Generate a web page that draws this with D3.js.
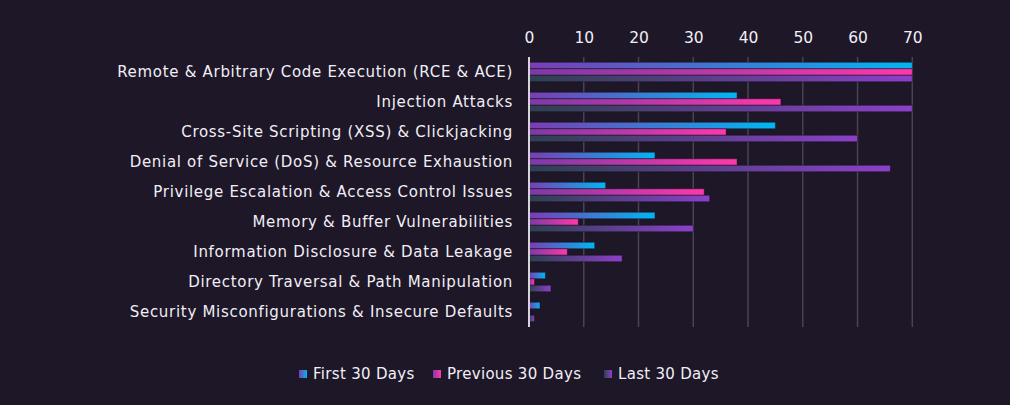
<!DOCTYPE html>
<html>
<head>
<meta charset="utf-8">
<script src="https://cdn.jsdelivr.net/npm/d3@7"></script>
<style>
    html, body { margin: 0; padding: 0; background: #1d1727; }
    svg { display: block; }
    text { font-family: "DejaVu Sans", sans-serif; fill: #f2eef6; }
</style>
</head>
<body>
<svg id="chart" width="1010" height="405"></svg>
<script>
const categories = [
    "Remote & Arbitrary Code Execution (RCE & ACE)",
    "Injection Attacks",
    "Cross-Site Scripting (XSS) & Clickjacking",
    "Denial of Service (DoS) & Resource Exhaustion",
    "Privilege Escalation & Access Control Issues",
    "Memory & Buffer Vulnerabilities",
    "Information Disclosure & Data Leakage",
    "Directory Traversal & Path Manipulation",
    "Security Misconfigurations & Insecure Defaults"
];
const seriesNames = ["First 30 Days", "Previous 30 Days", "Last 30 Days"];
const first30 = [70, 38, 45, 23, 14, 23, 12, 3, 2];
const previous30 = [70, 46, 36, 38, 32, 9, 7, 1, 0];
const last30 = [70, 70, 60, 66, 33, 30, 17, 4, 1];
const xTicks = [0, 10, 20, 30, 40, 50, 60, 70];

const gradients = [
    ["#7a3db2", "#00b6f2"],
    ["#7c3aa6", "#ff38aa"],
    ["#2e4050", "#8c40c8"]
];

const width = 1010, height = 405;
const margin = { top: 57, right: 98, bottom: 78, left: 529 };

const svg = d3.select("#chart");
const defs = svg.append("defs");
gradients.forEach(([from, to], i) => {
    const g = defs.append("linearGradient").attr("id", "grad" + i)
        .attr("x1", "0%").attr("x2", "100%").attr("y1", "0%").attr("y2", "0%");
    g.append("stop").attr("offset", "0%").attr("stop-color", from);
    g.append("stop").attr("offset", "100%").attr("stop-color", to);
});

const x = d3.scaleLinear().domain([0, 70]).range([margin.left, width - margin.right + 0.3]);
const y = d3.scaleBand().domain(categories).range([margin.top, height - margin.bottom]).paddingInner(0.35).paddingOuter(0.175);
const ySub = d3.scaleBand().domain(seriesNames).range([0, y.bandwidth()]);

// grid
svg.append("g")
    .selectAll("line")
    .data(xTicks.slice(1))
    .join("line")
    .attr("x1", d => x(d)).attr("x2", d => x(d))
    .attr("y1", margin.top).attr("y2", height - margin.bottom)
    .attr("stroke", "#4a4352").attr("stroke-width", 1.5);

// top axis labels
const xAxis = svg.append("g")
    .attr("transform", `translate(0, ${margin.top - 14})`)
    .call(d3.axisTop(x).tickValues(xTicks).tickSize(0).tickPadding(0));
xAxis.select(".domain").remove();
xAxis.selectAll("text").attr("font-size", 15.5).style("fill", "#f2eef6");

// bars
const rows = categories.map((c, i) => ({ cat: c, values: [first30[i], previous30[i], last30[i]] }));
const groups = svg.append("g")
    .selectAll("g")
    .data(rows)
    .join("g")
    .attr("transform", d => `translate(0, ${y(d.cat)})`);

groups.selectAll("rect")
    .data(d => d.values.map((v, i) => ({ v, s: seriesNames[i], i })))
    .join("rect")
    .filter(d => d.v > 0)
    .attr("x", x(0))
    .attr("y", d => ySub(d.s))
    .attr("width", d => x(d.v) - x(0))
    .attr("height", ySub.bandwidth())
    .attr("fill", d => `url(#grad${d.i})`)
    .attr("stroke", "rgba(20,12,30,0.45)")
    .attr("stroke-width", 1);

// left axis
const yAxis = svg.append("g")
    .attr("transform", `translate(${margin.left}, 0)`)
    .call(d3.axisLeft(y).tickSize(0).tickPadding(16));
yAxis.select(".domain").attr("stroke", "#d8d4dc").attr("stroke-width", 2)
    .attr("d", `M0,${margin.top}V${height - margin.bottom}`);
yAxis.selectAll("text").attr("font-size", 15).attr("letter-spacing", 0.7).style("fill", "#f2eef6");

// legend
const legendX = [299, 433, 604];
const legend = svg.append("g")
    .selectAll("g")
    .data(seriesNames)
    .join("g")
    .attr("transform", (d, i) => `translate(${legendX[i]}, 374)`);
legend.append("rect")
    .attr("x", 0).attr("y", -4).attr("width", 8).attr("height", 8)
    .attr("fill", (d, i) => `url(#grad${i})`);
legend.append("text")
    .attr("x", 14).attr("dy", "0.35em")
    .attr("font-size", 15)
    .attr("letter-spacing", 0.3)
    .text(d => d);
</script>
</body>
</html>
